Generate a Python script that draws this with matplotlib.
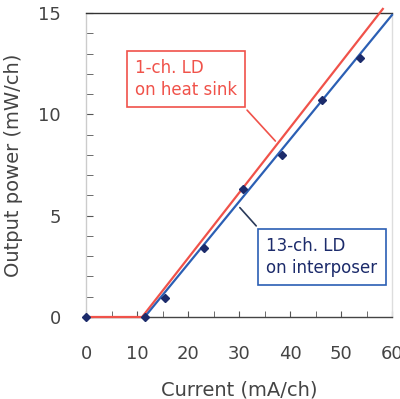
import matplotlib.pyplot as plt
import numpy as np

plt.rcParams['font.family'] = ['DejaVu Sans', 'Noto Sans CJK JP']

# measured points, 13-ch. LD on interposer
cur_13ch = [0, 11.5, 15.4, 23.1, 30.8, 38.5, 46.2, 53.8]
pow_13ch = [0, 0, 0.95, 3.4, 6.3, 8.0, 10.7, 12.8]

# fitted lines
fit_13ch_x = [11.5, 60.0]
fit_13ch_y = [0, 14.9]
fit_1ch_x = [0, 11.0, 58.2]
fit_1ch_y = [0, 0, 15.2]

red = '#f0524a'
blue = '#2b5fb4'
navy = '#1c2b6b'
txt = '#444444'

fig = plt.figure(figsize=(4.0, 3.99), dpi=100)
ax = fig.add_axes([0.215, 0.2055, 0.765, 0.762])

ax.plot(fit_1ch_x, fit_1ch_y, color=red, lw=1.6, clip_on=False, zorder=3)
ax.plot(fit_13ch_x, fit_13ch_y, color=blue, lw=1.6, clip_on=False, zorder=3)
ax.plot(cur_13ch, pow_13ch, 'D', color=navy, ms=4.5, clip_on=False, zorder=4)

ax.set_xlim(0, 60)
ax.set_ylim(0, 15)
ax.set_xticks(np.arange(0, 61, 10))
ax.set_xticks(np.arange(0, 61, 5), minor=True)
ax.set_yticks([0, 5, 10, 15])
ax.set_yticks(np.arange(0, 16, 1), minor=True)
ax.tick_params(which='both', direction='in', colors='#555555', labelcolor=txt, labelsize=13)
ax.tick_params(axis='x', which='both', length=4, pad=20)
ax.tick_params(axis='y', which='both', length=5, pad=18)
ax.tick_params(top=False, right=False)

ax.spines['left'].set_color('#cccccc')
ax.spines['right'].set_color('#dddddd')
ax.spines['top'].set_color('#333333')
ax.spines['bottom'].set_color('#444444')
for s in ax.spines.values():
    s.set_linewidth(1.0)

ax.set_xlabel('Current (mA/ch)', fontsize=14, color=txt, labelpad=13)
ax.set_ylabel('Output power (mW/ch)', fontsize=14, color=txt, labelpad=11)

# callouts
ax.annotate('1-ch. LD\non heat sink', xy=(37.5, 8.58), xytext=(19.6, 11.74),
            fontsize=12, color=red, ha='center', va='center', multialignment='left',
            linespacing=1.3,
            bbox=dict(boxstyle='square,pad=0.5', fc='white', ec=red, lw=1.2),
            arrowprops=dict(arrowstyle='-', color=red, lw=1.2, relpos=(1, 0)))
ax.annotate('13-ch. LD\non interposer', xy=(29.8, 5.5), xytext=(46.2, 2.96),
            fontsize=12, color=navy, ha='center', va='center', multialignment='left',
            linespacing=1.3,
            bbox=dict(boxstyle='square,pad=0.5', fc='white', ec=blue, lw=1.2),
            arrowprops=dict(arrowstyle='-', color='#2a3a5a', lw=1.2, relpos=(0, 1)))

fig.savefig('out.png', dpi=100)
